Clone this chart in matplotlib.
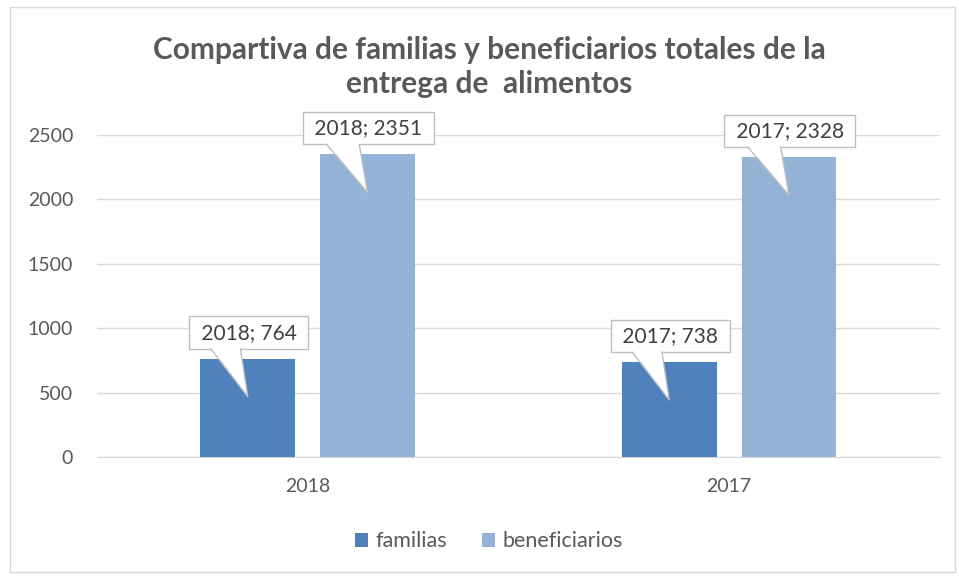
import matplotlib.pyplot as plt
from matplotlib.patches import Rectangle, Polygon
from matplotlib.lines import Line2D
import numpy as np

# data
years = ["2018", "2017"]
familias = [764, 738]
beneficiarios = [2351, 2328]

plt.rcParams["font.family"] = ["Lato", "DejaVu Sans"]

fig = plt.figure(figsize=(9.59, 5.76), dpi=100)
ax = fig.add_axes([0.101, 0.2066, 0.879, 0.559])

x = np.arange(len(years))
w = 0.225
off = 0.142
ax.bar(x - off, familias, w, color="#4F81BD", label="familias", zorder=3)
ax.bar(x + off, beneficiarios, w, color="#95B3D7", label="beneficiarios", zorder=3)

ax.set_xlim(-0.5, 1.5)
ax.set_ylim(0, 2500)
ax.set_yticks(range(0, 2501, 500))
ax.set_xticks(x)
ax.set_xticklabels(years)
ax.yaxis.grid(True, color="#D9D9D9", linewidth=1, zorder=0)
for s in ax.spines.values():
    s.set_visible(False)
ax.spines["bottom"].set_visible(True)
ax.spines["bottom"].set_color("#D9D9D9")
ax.tick_params(length=0, labelsize=14, colors="#595959")
ax.tick_params(axis="y", pad=17)
ax.tick_params(axis="x", pad=15)

# callouts "year; value"
px_per_unit = 322.0 / 2500
labels = []
for xs, vals in [(x - off, familias), (x + off, beneficiarios)]:
    for xi, v, yr in zip(xs, vals, years):
        tip = v - 38 / px_per_unit
        t = ax.annotate(f" {yr}; {v} ", xy=(xi, tip), xycoords="data",
                        xytext=(1, 64), textcoords="offset pixels",
                        ha="center", va="center", fontsize=15, color="#404040",
                        bbox=dict(boxstyle="square,pad=0.3", fc="white", ec="#BFBFBF", lw=1),
                        zorder=5)
        labels.append((t, xi, tip))

fig.canvas.draw()
renderer = fig.canvas.get_renderer()
for t, xi, tip in labels:
    bb = t.get_bbox_patch().get_window_extent(renderer)
    tx, ty = ax.transData.transform((xi, tip))
    x0 = bb.x0 + 0.18 * bb.width
    x1 = bb.x0 + 0.43 * bb.width
    yb = bb.y0
    fill = Polygon([(x0, yb + 1.5), (x1, yb + 1.5), (tx, ty)], closed=True,
                   transform=None, fc="white", ec="none", zorder=6)
    fig.patches.append(fill)
    edge = Line2D([x0, tx, x1], [yb, ty, yb], transform=None,
                  color="#BFBFBF", lw=1, zorder=7)
    fig.lines.append(edge)

fig.text(0.51, 0.884, "Compartiva de familias y beneficiarios totales de la\nentrega de  alimentos",
         ha="center", va="center", fontsize=21.5, fontweight="bold", color="#595959",
         linespacing=1.27)

fig.legend(loc="center", bbox_to_anchor=(0.51, 0.06), ncol=2, frameon=False,
           fontsize=15.5, labelcolor="#595959", handlelength=0.6, handleheight=0.6,
           handletextpad=0.35, columnspacing=1.6)

fig.patches.append(Rectangle((0.010, 0.007), 0.986, 0.98, transform=fig.transFigure,
                             fill=False, ec="#D9D9D9", lw=1))

plt.savefig("out.png")
